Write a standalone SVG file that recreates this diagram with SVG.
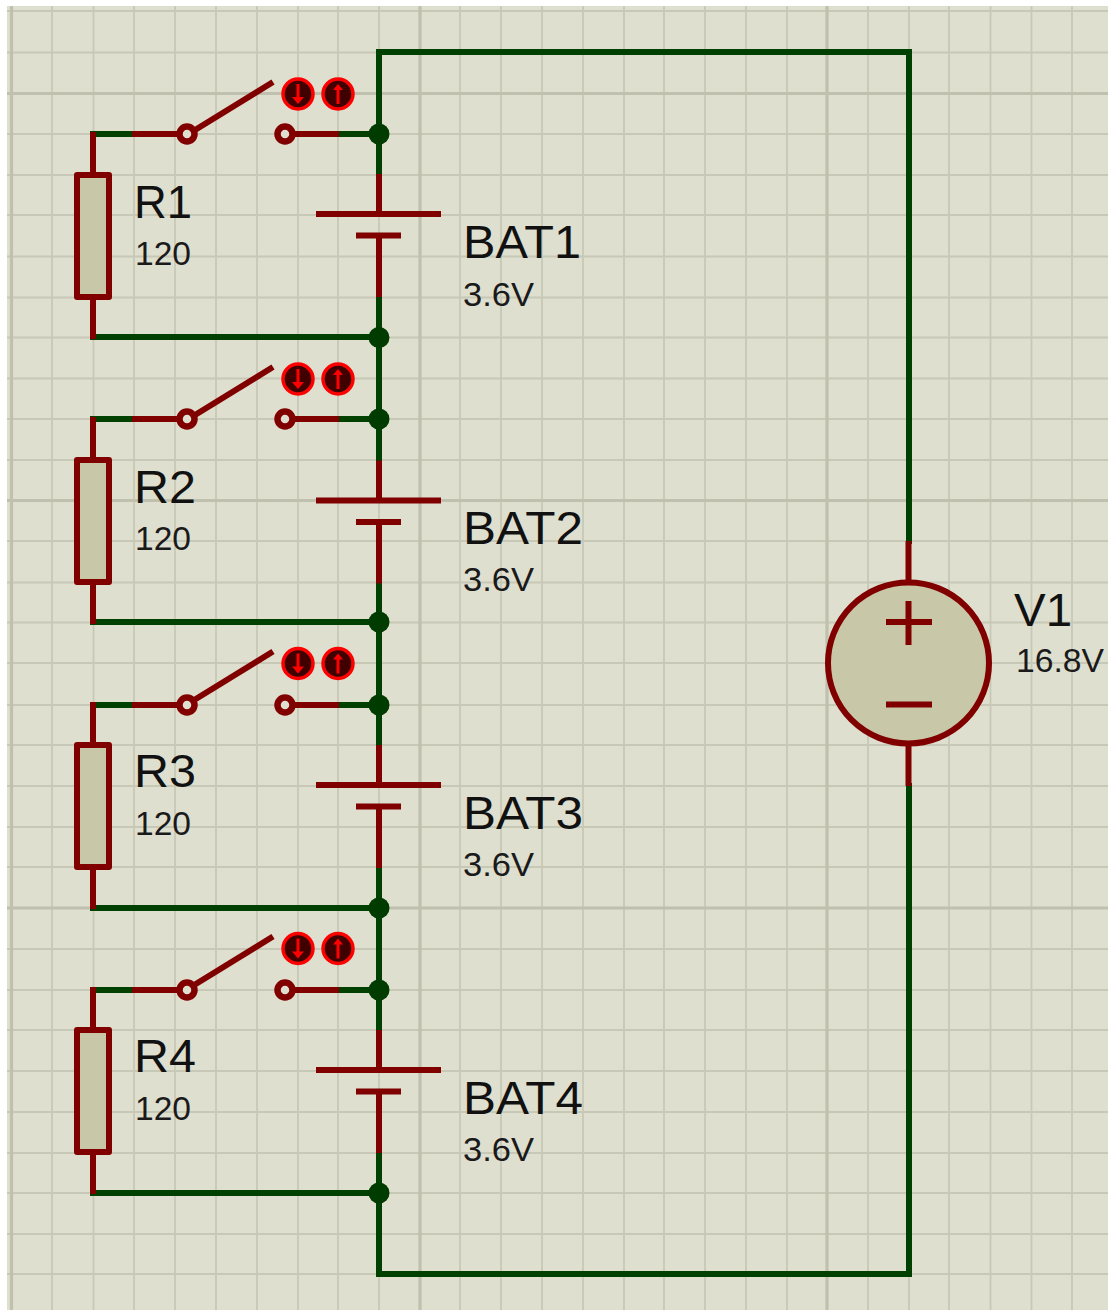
<svg xmlns="http://www.w3.org/2000/svg" xmlns:xlink="http://www.w3.org/1999/xlink" width="1108" height="1310" viewBox="0 0 1108 1310">
<style>
.grid{stroke:#c8c8b6;stroke-width:1.800;fill:none}
.major{stroke:#c0c0ae;stroke-width:3.2;fill:none}
.w{stroke:#004000;stroke-width:6;fill:none;stroke-linecap:square}
.r{stroke:#800000;stroke-width:6;fill:none;stroke-linecap:butt}
.t{stroke:#800000;stroke-width:6.500;fill:#dfdfd0}
.body{stroke:#800000;stroke-width:6;fill:#c8c8a9;stroke-linejoin:round}
.j{fill:#003c00}
.btn{fill:#400000;stroke:#ff0000;stroke-width:3.5}
.arr{stroke:#ff0000;stroke-width:3;fill:none}
.ah{fill:#ff0000}
.name{font-family:"Liberation Sans",Arial,sans-serif;font-size:46px;fill:#111}
.val{font-family:"Liberation Sans",Arial,sans-serif;font-size:32.5px;fill:#1a1a1a}
</style>
<defs>
<g id="sw">
<path class="r" d="M132 134H179M293 134H339"/>
<circle class="t" cx="187" cy="134" r="7.500"/>
<circle class="t" cx="285" cy="134" r="7.500"/>
</g>
<g id="lever">
<path class="r" d="M195 130L273 82"/>
<circle class="btn" cx="298" cy="94" r="15"/>
<path class="arr" d="M298 84V98"/><path class="ah" d="M292 97H304L298 104Z"/>
<circle class="btn" cx="338" cy="94" r="15"/>
<path class="arr" d="M338 104V89"/><path class="ah" d="M333 90L338 84L343 90Z"/>
</g>
<g id="res">
<path class="r" d="M93 132V175M93 297V339"/>
<rect class="body" x="77" y="175" width="32" height="122"/>
</g>
<g id="bat">
<path class="r" d="M379 174V214M379 236V297"/>
<path class="r" d="M316 214H441M356 235.500H401"/>
</g>
</defs>
<rect width="1108" height="1310" fill="#ffffff"/>
<rect x="7" y="6" width="1101" height="1304" fill="#dfdfd0"/>
<g id="grid">
<path class="grid" d="M52 6V1310M93.500 6V1310M134 6V1310M175 6V1310M216 6V1310M257 6V1310M298 6V1310M338 6V1310M379 6V1310M460 6V1310M501 6V1310M542 6V1310M583 6V1310M624 6V1310M664 6V1310M705 6V1310M746 6V1310M787 6V1310M868 6V1310M909 6V1310M949 6V1310M990.500 6V1310M1031.500 6V1310M1072 6V1310"/>
<path class="grid" d="M7 11H1108M7 52.500H1108M7 134H1108M7 175H1108M7 215H1108M7 256.500H1108M7 297.500H1108M7 337.500H1108M7 378.500H1108M7 419H1108M7 460H1108M7 541H1108M7 582.500H1108M7 622.500H1108M7 663H1108M7 705H1108M7 745H1108M7 786H1108M7 827H1108M7 867H1108M7 949H1108M7 990H1108M7 1030H1108M7 1071H1108M7 1112H1108M7 1153H1108M7 1193H1108M7 1234H1108M7 1274H1108"/>
<path class="major" d="M11.500 6V1310M420 6V1310M827 6V1310M7 93.500H1108M7 500.500H1108M7 908H1108"/>
</g>
<g id="connectors">
<path class="w" d="M379 134V174M379 297V459M379 582V745M379 867V1030M379 1153V1274H909V786M909 541V52H379V134"/>
<path class="w" d="M93 134H132M339 134H379M93 337H379"/>
<path class="w" d="M93 419H132M339 419H379M93 622H379"/>
<path class="w" d="M93 705H132M339 705H379M93 908H379"/>
<path class="w" d="M93 990H132M339 990H379M93 1193H379"/>
<circle class="j" cx="379" cy="134" r="10.500"/><circle class="j" cx="379" cy="337.500" r="10.500"/>
<circle class="j" cx="379" cy="419" r="10.500"/><circle class="j" cx="379" cy="622" r="10.500"/>
<circle class="j" cx="379" cy="705" r="10.500"/><circle class="j" cx="379" cy="908" r="10.500"/>
<circle class="j" cx="379" cy="990" r="10.500"/><circle class="j" cx="379" cy="1193" r="10.500"/>
</g>
<g id="SW1"><use href="#sw"/><use href="#lever"/></g>
<g id="SW2"><use href="#sw" y="285"/><use href="#lever" y="285"/></g>
<g id="SW3"><use href="#sw" y="571"/><use href="#lever" y="569.500"/></g>
<g id="SW4"><use href="#sw" y="856"/><use href="#lever" y="854.500"/></g>
<g id="R1"><use href="#res"/><text class="name" x="134" y="218" textLength="58" lengthAdjust="spacingAndGlyphs">R1</text><text class="val" x="135" y="265" textLength="56" lengthAdjust="spacingAndGlyphs">120</text></g>
<g id="R2"><use href="#res" y="285"/><text class="name" x="134" y="503" textLength="62" lengthAdjust="spacingAndGlyphs">R2</text><text class="val" x="135" y="550" textLength="56" lengthAdjust="spacingAndGlyphs">120</text></g>
<g id="R3"><use href="#res" y="570"/><text class="name" x="134" y="787" textLength="62" lengthAdjust="spacingAndGlyphs">R3</text><text class="val" x="135" y="835" textLength="56" lengthAdjust="spacingAndGlyphs">120</text></g>
<g id="R4"><use href="#res" y="855"/><text class="name" x="134" y="1072" textLength="62" lengthAdjust="spacingAndGlyphs">R4</text><text class="val" x="135" y="1120" textLength="56" lengthAdjust="spacingAndGlyphs">120</text></g>
<g id="BAT1"><use href="#bat"/><text class="name" x="463" y="258" textLength="118" lengthAdjust="spacingAndGlyphs">BAT1</text><text class="val" x="463" y="305.500" textLength="71" lengthAdjust="spacingAndGlyphs">3.6V</text></g>
<g id="BAT2"><use href="#bat" y="286.500"/><text class="name" x="463" y="544" textLength="120" lengthAdjust="spacingAndGlyphs">BAT2</text><text class="val" x="463" y="590.500" textLength="71" lengthAdjust="spacingAndGlyphs">3.6V</text></g>
<g id="BAT3"><use href="#bat" y="571"/><text class="name" x="463" y="829" textLength="120" lengthAdjust="spacingAndGlyphs">BAT3</text><text class="val" x="463" y="875.500" textLength="71" lengthAdjust="spacingAndGlyphs">3.6V</text></g>
<g id="BAT4"><use href="#bat" y="856"/><text class="name" x="463" y="1114" textLength="120" lengthAdjust="spacingAndGlyphs">BAT4</text><text class="val" x="463" y="1160.500" textLength="71" lengthAdjust="spacingAndGlyphs">3.6V</text></g>
<g id="V1">
<path class="r" d="M908.500 541V584M908.500 743V786"/>
<circle class="body" cx="908.500" cy="663" r="80.500"/>
<path class="r" d="M886 622H932M908.500 601V645M886 704.500H932"/>
<text class="name" x="1014" y="626" textLength="58" lengthAdjust="spacingAndGlyphs">V1</text>
<text class="val" x="1016" y="672" textLength="88" lengthAdjust="spacingAndGlyphs">16.8V</text>
</g>
</svg>
